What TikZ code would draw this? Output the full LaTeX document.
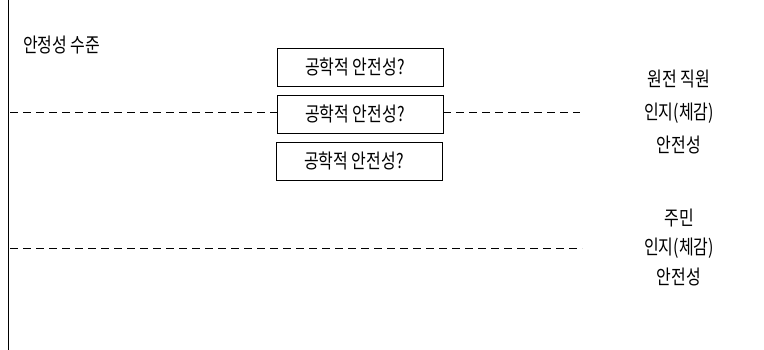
\documentclass[tikz,border=0pt]{standalone}
\usepackage{fontspec}
\setmainfont[FakeStretch=0.8]{Noto Sans CJK KR}
\begin{document}
\begin{tikzpicture}[x=1pt,y=-1pt,
  every node/.style={font=\fontsize{20}{22}\selectfont, inner sep=0pt},
  qbox/.style={draw, line width=0.6pt, minimum width=166pt, minimum height=38pt},
  lvl/.style={dashed, dash pattern=on 8pt off 5pt, line width=0.8pt},
  axis/.style={line width=0.9pt},
  lbl/.style={anchor=center}]
\useasboundingbox (0,0) rectangle (764,350);
\coordinate (atop) at (8,0);
\coordinate (abot) at (8,350);
\draw[axis] (atop) -- (abot);
\node[anchor=west] (title) at (23,45) {안정성 수준};
\node[qbox] (b1) at (360,67) {};
\node[qbox] (b2) at (360,114) {};
\node[qbox] (b3) at (359,161) {};
\node (t1) at (355,67) {공학적 안전성?};
\node (t2) at (355,114) {공학적 안전성?};
\node (t3) at (354,161) {공학적 안전성?};
\coordinate (l1a) at (10,112.5);
\coordinate (l1b) at (580,112.5);
\coordinate (l2a) at (10,248.5);
\coordinate (l2b) at (582,248.5);
\draw[lvl] (l1a) -- (l1a -| b2.west);
\draw[lvl] (l1b -| b2.east) -- (l1b);
\draw[lvl] (l2a) -- (l2b);
\node[lbl] (s1) at (679,79) {원전 직원};
\node[lbl] (s2) at (679,113) {인지(체감)};
\node[lbl] (s3) at (679,145) {안전성};
\node[lbl] (r1) at (679,218) {주민};
\node[lbl] (r2) at (679,248) {인지(체감)};
\node[lbl] (r3) at (679,277) {안전성};
\end{tikzpicture}
\end{document}
